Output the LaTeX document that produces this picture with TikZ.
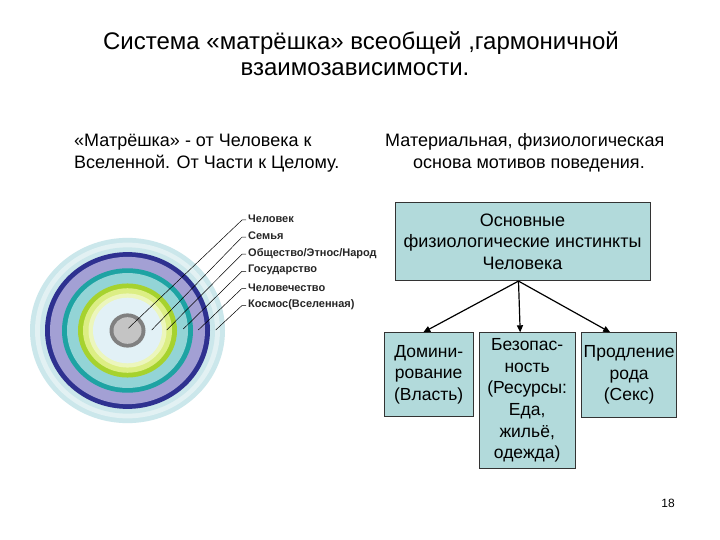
\documentclass[tikz,border=0pt]{standalone}
\usepackage{fontspec}
\setmainfont{Liberation Sans}
\usetikzlibrary{arrows.meta}
\definecolor{pcyan}{HTML}{CBE7EB}
\definecolor{pcyanl}{HTML}{E2F1F3}
\definecolor{navy}{HTML}{2E3190}
\definecolor{lav}{HTML}{A3A0D4}
\definecolor{teal2}{HTML}{1EA3A3}
\definecolor{lteal}{HTML}{93D4D6}
\definecolor{ygreen}{HTML}{A6D22E}
\definecolor{pyel}{HTML}{DCEE84}
\definecolor{pyell}{HTML}{ECF6BC}
\definecolor{pblue}{HTML}{E2F1F6}
\definecolor{dgray}{HTML}{808080}
\definecolor{lgray}{HTML}{C4C4C4}
\definecolor{boxc}{HTML}{B2DADB}
\tikzset{
  ttl/.style={anchor=base, inner sep=0pt, font=\fontsize{24}{28}\selectfont},
  sub/.style={anchor=base west, inner sep=0pt, font=\fontsize{18}{21}\selectfont},
  lab/.style={anchor=west, inner sep=0pt, text=black!85, font=\bfseries\fontsize{11}{12}\selectfont},
  lead/.style={draw=black, line width=0.5pt},
  bx/.style={draw=black!80, line width=0.8pt, fill=boxc, inner sep=0pt, align=center, font=\fontsize{17.5}{21.6}\selectfont},
  arr/.style={draw=black, line width=1.2pt, -{Triangle[length=7pt,width=6pt]}},
}
\begin{document}
\begin{tikzpicture}[x=1pt,y=-1pt]
\useasboundingbox (0,0) rectangle (720,540);
\fill[white] (0,0) rectangle (720,540);

% title
\node[ttl] (t1) at (361,50) {Система «матрёшка» всеобщей ,гармоничной};
\node[ttl] (t2) at (355,76) {взаимозависимости.};

% subtitles
\node[sub] (s1) at (74,147) {«Матрёшка» - от Человека к};
\node[sub] (s2) at (74,169) {Вселенной. От Части к Целому.};
\node[sub] (s3) at (385,147) {Материальная, физиологическая};
\node[sub] (s4) at (413,169) {основа мотивов поведения.};

% rings
\coordinate (c) at (127.5,330.5);
\foreach \r/\col in {97.5/pcyan, 92.5/pcyanl, 87.5/pcyan, 82.5/navy, 77.5/lav, 65.5/teal2, 60.5/lteal, 49.5/ygreen, 44.5/pyel, 39/pyell, 34.5/pblue, 18/dgray, 14/lgray}{
  \fill[\col] (c) ellipse [x radius=\r pt, y radius=0.95*\r pt];
}

% labels and leaders
\coordinate (p1) at (128.3,328.3);
\coordinate (p2) at (151.7,330);
\coordinate (p3) at (166.7,330);
\coordinate (p4) at (183.3,329);
\coordinate (p5) at (198.3,330);
\coordinate (p6) at (215.7,330);
\node[lab] (l1) at (248,219) {Человек};
\node[lab] (l2) at (248,236.1) {Семья};
\node[lab] (l3) at (248,253.2) {Общество/Этнос/Народ};
\node[lab] (l4) at (248,270.3) {Государство};
\node[lab] (l5) at (248,287.4) {Человечество};
\node[lab] (l6) at (248,304.5) {Космос(Вселенная)};
\foreach \i in {1,...,6}{
  \draw[lead] ([shift={(-2,1)}]l\i.west) -- ++(-4,0) -- (p\i);
}

% boxes
\node[bx, font=\fontsize{18}{21.6}\selectfont, minimum width=255pt, minimum height=78pt] (top) at (522.5,241.7) {Основные\\физиологические инстинкты\\Человека};
\node[bx, minimum width=89.3pt, minimum height=84pt] (lbox) at (428.7,374.7) {Домини-\\рование\\(Власть)};
\node[bx, minimum width=95.7pt, minimum height=135.6pt] (mbox) at (527.2,400.5) {Безопас-\\ность\\(Ресурсы:\\Еда,\\жильё,\\одежда)};
\node[bx, minimum width=95pt, minimum height=84.6pt] (rbox) at (629.2,375) {Продление\\рода\\(Секс)};

\coordinate (split) at ([xshift=-4pt]top.south);
\draw[arr] (split) -- ([xshift=-5.4pt]lbox.north);
\draw[arr] (split) -- ([xshift=-7pt]mbox.north);
\draw[arr] (split) -- ([xshift=-19pt]rbox.north);

% page number
\node[font=\fontsize{12}{14}\selectfont] (pg) at (668,503) {18};
\end{tikzpicture}
\end{document}
